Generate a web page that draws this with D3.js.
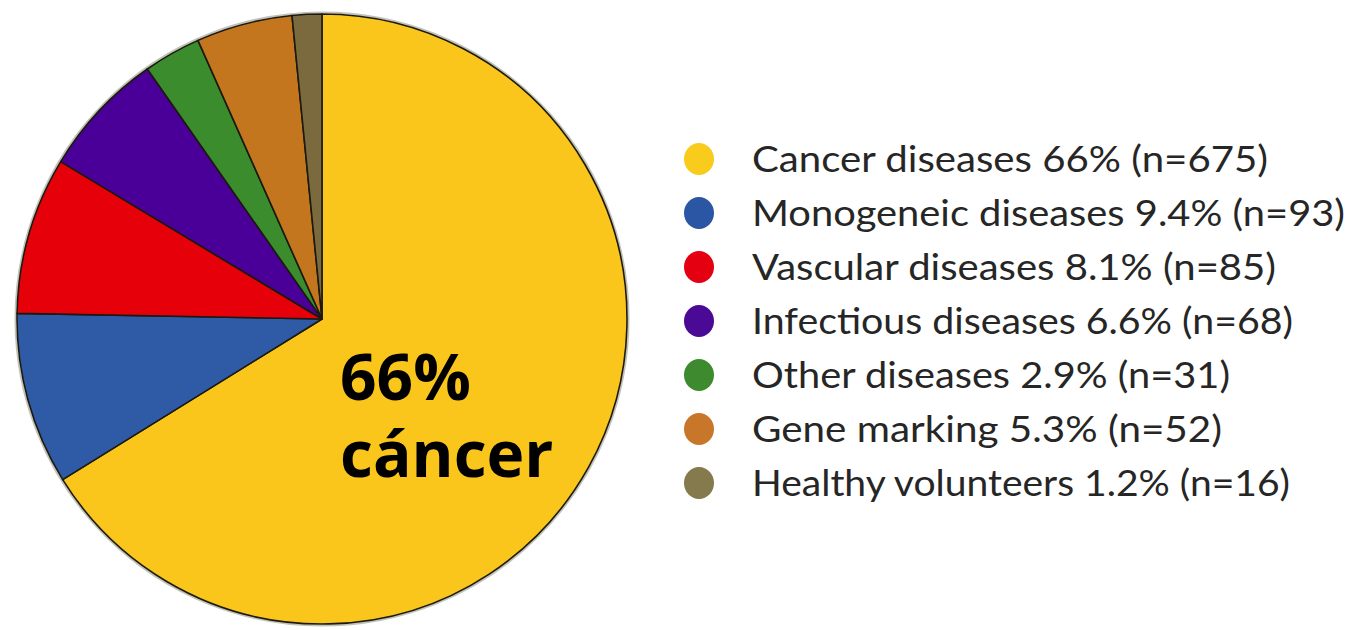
<!DOCTYPE html>
<html>
<head>
<meta charset="utf-8">
<title>Gene therapy trials by indication</title>
<style>
  body { margin: 0; background: #fff; }
  svg { display: block; }
</style>
</head>
<body>
<script src="https://d3js.org/d3.v7.min.js"></script>
<script>
// categories and values
var labels  = ["Cancer diseases", "Monogeneic diseases", "Vascular diseases",
               "Infectious diseases", "Other diseases", "Gene marking", "Healthy volunteers"];
var percent = ["66%", "9.4%", "8.1%", "6.6%", "2.9%", "5.3%", "1.2%"];
var counts  = [675, 93, 85, 68, 31, 52, 16];
var sliceColors  = ["#fbc61c", "#2f5aa6", "#e6000a", "#4a0098", "#3b8c2c", "#c4761f", "#7a6a3e"];
var legendColors = ["#f8cb1c", "#2b56a3", "#e50011", "#4a0a96", "#3e8b2f", "#c8772a", "#857a4e"];
var legendWidths = [516, 593, 524, 541, 478, 470, 538];
var bigLabel = ["66%", "cáncer"];

var W = 1353, H = 630;
var cx = 322, cy = 319, R = 305;

var svg = d3.select("body").append("svg")
    .attr("width", W).attr("height", H);

var rows = counts.map(function(c, i) {
  return { label: labels[i], pct: percent[i], n: c, color: sliceColors[i] };
});

var pie = d3.pie().sort(null).value(function(d) { return d.n; });
var arc = d3.arc().innerRadius(0).outerRadius(R);

var g = svg.append("g").attr("transform", "translate(" + cx + "," + cy + ")");

// soft grey rim
g.append("circle").attr("r", R + 1.5)
  .attr("fill", "none").attr("stroke", "#9a9a88").attr("stroke-width", 2).attr("opacity", 0.6);

g.selectAll("path.slice")
  .data(pie(rows))
  .enter().append("path")
  .attr("class", "slice")
  .attr("d", arc)
  .attr("fill", function(d) { return d.data.color; })
  .attr("stroke", "#1c1a10")
  .attr("stroke-width", 1.6)
  .attr("stroke-linejoin", "round");

// big label in the cancer slice, two lines
svg.selectAll("text.big")
  .data(bigLabel)
  .enter().append("text")
  .attr("class", "big")
  .attr("x", 340)
  .attr("y", function(d, i) { return 400 + i * 77; })
  .attr("font-family", "'Open Sans', 'DejaVu Sans', sans-serif")
  .attr("font-weight", "bold")
  .attr("font-size", 64)
  .attr("fill", "#000")
  .text(function(d) { return d; });

// legend
var y = d3.scaleBand().domain(d3.range(rows.length)).range([132, 510]);

var item = svg.append("g").selectAll("g.item")
  .data(rows)
  .enter().append("g")
  .attr("class", "item")
  .attr("transform", function(d, i) { return "translate(0," + (y(i) + y.bandwidth() / 2) + ")"; });

item.append("ellipse")
  .attr("cx", 699).attr("cy", 0)
  .attr("rx", 15).attr("ry", 16)
  .attr("fill", function(d, i) { return legendColors[i]; });

item.append("text")
  .attr("x", 752).attr("y", 13)
  .attr("font-family", "'Lato', 'DejaVu Sans', sans-serif")
  .attr("font-size", 36)
  .attr("fill", "#262626")
  .attr("textLength", function(d, i) { return legendWidths[i]; })
  .attr("lengthAdjust", "spacingAndGlyphs")
  .text(function(d) { return d.label + " " + d.pct + " (n=" + d.n + ")"; });
</script>
</body>
</html>
